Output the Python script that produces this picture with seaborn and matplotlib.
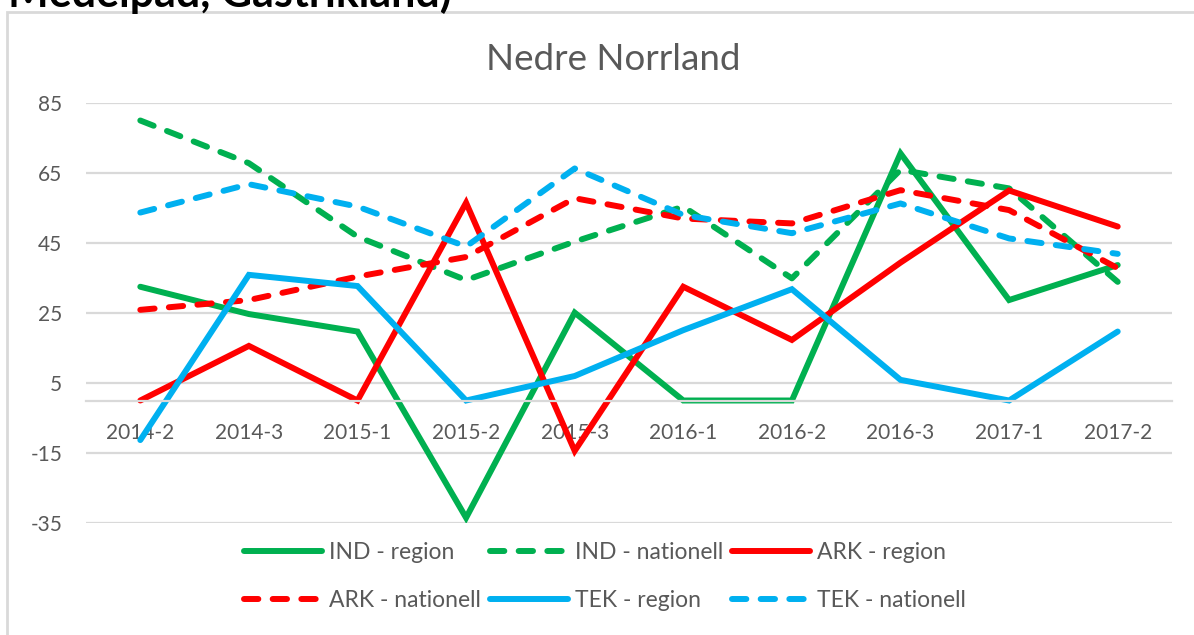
import matplotlib
matplotlib.use("Agg")
import matplotlib.pyplot as plt
from matplotlib.patches import Rectangle
import pandas as pd
import seaborn as sns

# Data
periods = ["2014-2", "2014-3", "2015-1", "2015-2", "2015-3",
           "2016-1", "2016-2", "2016-3", "2017-1", "2017-2"]
ind_region = [32.5, 24.7, 19.7, -33.5, 25.1, 0, 0, 70.6, 28.7, 38.7]
ind_nationell = [80.0, 67.8, 46.8, 34.4, 45.4, 55.4, 34.9, 65.9, 60.6, 33.9]
ark_region = [0, 15.6, 0, 56.5, -14.4, 32.5, 17.3, 39.4, 60.0, 49.7]
ark_nationell = [25.9, 28.7, 35.4, 41.0, 57.8, 52.0, 50.6, 60.1, 54.4, 37.8]
tek_region = [-11.3, 35.9, 32.7, 0, 7.0, 20.1, 31.8, 5.9, 0, 19.7]
tek_nationell = [53.7, 61.8, 55.4, 44.0, 66.3, 53.0, 47.8, 56.3, 46.3, 41.9]

series_names = ["IND - region", "IND - nationell", "ARK - region",
                "ARK - nationell", "TEK - region", "TEK - nationell"]
series_values = [ind_region, ind_nationell, ark_region,
                 ark_nationell, tek_region, tek_nationell]
yticks = [-35, -15, 5, 25, 45, 65, 85]

green, red, blue = "#00b050", "#ff0000", "#00b0f0"
palette = dict(zip(series_names, [green, green, red, red, blue, blue]))
dash = (2.4, 2.4)
dashes = dict(zip(series_names, ["", dash, "", dash, "", dash]))

rows = []
for name, vals in zip(series_names, series_values):
    for p, v in zip(periods, vals):
        rows.append({"period": p, "value": v, "serie": name})
df = pd.DataFrame(rows)

sns.set_theme(style="white")
plt.rcParams["font.family"] = ["Lato", "DejaVu Sans"]
plt.rcParams["axes.unicode_minus"] = False
text_grey = "#595959"
grid_grey = "#d9d9d9"
lw = 4.3

fig = plt.figure(figsize=(11.94, 6.35), dpi=100)
ax = fig.add_axes([86 / 1194, 1 - 523 / 635, (1172 - 86) / 1194, 420 / 635])

sns.lineplot(data=df, x="period", y="value", hue="serie", style="serie",
             palette=palette, dashes=dashes, linewidth=lw, sort=False,
             ax=ax, legend=True)
for line in ax.lines:
    line.set_dash_capstyle("round")
    line.set_solid_capstyle("round")
    line.set_solid_joinstyle("miter")

ax.set_xlim(-0.5, len(periods) - 0.5)
ax.set_ylim(-35, 85)
ax.set_yticks(yticks)
ax.yaxis.grid(True, color=grid_grey, linewidth=1.6)
ax.set_axisbelow(True)
ax.set_xlabel("")
ax.set_ylabel("")
for s in ["top", "right", "left"]:
    ax.spines[s].set_visible(False)
ax.spines["bottom"].set_position(("data", 0))
ax.spines["bottom"].set_color(grid_grey)
ax.spines["bottom"].set_linewidth(1.6)
ax.tick_params(axis="x", length=0, pad=16, labelsize=15, labelcolor=text_grey)
ax.tick_params(axis="y", length=0, pad=17, labelsize=15, labelcolor=text_grey)

# legend in row order, like the original
handles, labels = ax.get_legend_handles_labels()
order = [0, 3, 1, 4, 2, 5]
leg = ax.legend([handles[i] for i in order], [labels[i] for i in order],
                ncol=3, loc="upper left", bbox_to_anchor=(0.137, -0.024),
                frameon=False, fontsize=16.5, handlelength=3.4,
                handletextpad=0.3, columnspacing=0.4, labelspacing=1.15,
                borderaxespad=0)
for t in leg.get_texts():
    t.set_color(text_grey)
for h in leg.get_lines():
    h.set_linewidth(lw)
    h.set_dash_capstyle("round")
    h.set_solid_capstyle("round")

fig.text(613 / 1194, 1 - 60 / 635, "Nedre Norrland", ha="center", va="center",
         fontsize=26.5, color=text_grey)
fig.text(8 / 1194, 1 - 7 / 635, "Medelpad, Gästrikland)", ha="left",
         va="baseline", fontsize=31, fontweight="bold", color="black")
fig.patches.append(Rectangle((7 / 1194, -0.2), 1.2, 1.2 - 12 / 635,
                             transform=fig.transFigure, fill=False,
                             edgecolor=grid_grey, linewidth=2))

fig.savefig("out.png", dpi=100, facecolor="white")
